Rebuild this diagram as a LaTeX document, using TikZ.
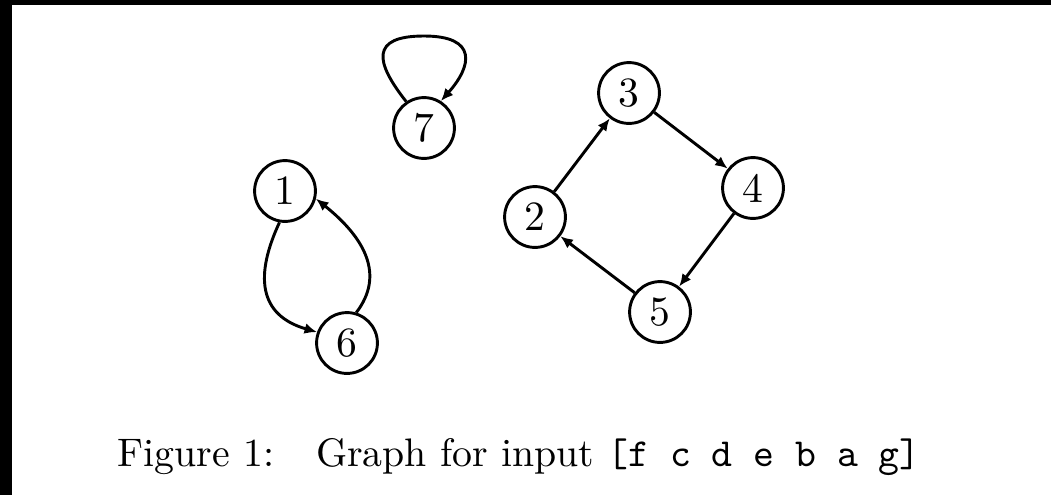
\documentclass[tikz,border=0pt]{standalone}
\usetikzlibrary{arrows.meta}
\begin{document}
\begin{tikzpicture}[x=0.24pt,y=-0.24pt,
  vert/.style={circle,draw,line width=0.7pt,minimum size=14.6pt,inner sep=0pt,font=\normalsize},
  arc/.style={line width=0.7pt,-{Latex[length=3pt,width=2.6pt]}}]
\useasboundingbox (0,0) rectangle (1051,495);
\fill[white] (0,0) rectangle (1051,495);
\fill[black] (0,0) rectangle (12,495);
\fill[black] (0,0) rectangle (1051,5);
\node[vert] (n7) at (424,128) {7};
\node[vert] (n1) at (285,191) {1};
\node[vert] (n6) at (347,343) {6};
\node[vert] (n3) at (629,93) {3};
\node[vert] (n2) at (535,217) {2};
\node[vert] (n4) at (753,188) {4};
\node[vert] (n5) at (660,312) {5};
\draw[arc] (n2) -- (n3);
\draw[arc] (n3) -- (n4);
\draw[arc] (n4) -- (n5);
\draw[arc] (n5) -- (n2);
\draw[arc] (n1.-100) .. controls (255,275) and (258,315) .. (n6.160);
\draw[arc] (n6.73) .. controls (385,275) and (365,238) .. (n1.-14);
\draw[arc] (n7.124) .. controls (375,62) and (370,36) .. (424,36)
  .. controls (478,36) and (472,66) .. (n7.58);
\node[anchor=base west,inner sep=0pt,font=\fontsize{9.55}{11.5}\selectfont] (cap) at (117,466)
  {Figure 1:\hspace{10pt}Graph for input \texttt{[f c d e b a g]}};
\end{tikzpicture}
\end{document}
